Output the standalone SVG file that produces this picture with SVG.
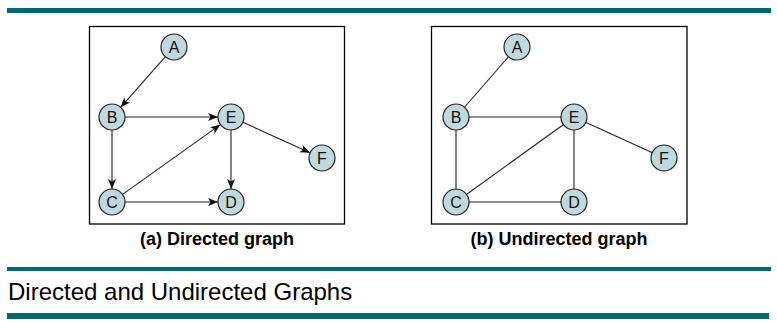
<svg xmlns="http://www.w3.org/2000/svg" width="777" height="323" viewBox="0 0 777 323">
<style>
.bar{fill:#006870}
.frame{fill:none;stroke:#000;stroke-width:1.3}
.node circle{fill:#c1d8dc;stroke:#222;stroke-width:1.2}
.node text{font-family:"Liberation Sans",Arial,sans-serif;font-size:16px;fill:#111;text-anchor:middle}
.edge{stroke:#222;stroke-width:1.1;fill:none}
.cap{font-family:"Liberation Sans",Arial,sans-serif;font-size:18px;font-weight:bold;fill:#000;text-anchor:middle}
.title{font-family:"Liberation Sans",Arial,sans-serif;font-size:24px;fill:#000}
</style>
<defs>
<marker id="arr" markerUnits="userSpaceOnUse" markerWidth="12" markerHeight="10" refX="10" refY="4" orient="auto">
<path d="M0,0 L10,4 L0,8 L2.5,4 z" fill="#111"/>
</marker>
</defs>
<rect class="bar" x="7" y="8" width="764" height="5"/>
<rect class="frame" x="89.5" y="26.5" width="255" height="197.5"/>
<rect class="frame" x="431.5" y="26.5" width="255.5" height="197.5"/>
<g id="connectors">
<line class="edge" x1="165.4" y1="56.7" x2="120.6" y2="107.3" marker-end="url(#arr)"/>
<line class="edge" x1="125" y1="117" x2="218" y2="117" marker-end="url(#arr)"/>
<line class="edge" x1="112" y1="130" x2="112" y2="189" marker-end="url(#arr)"/>
<line class="edge" x1="122.6" y1="194.4" x2="220.4" y2="124.6" marker-end="url(#arr)"/>
<line class="edge" x1="125" y1="202" x2="218" y2="202" marker-end="url(#arr)"/>
<line class="edge" x1="231" y1="130" x2="231" y2="189" stroke-width="1.4" marker-end="url(#arr)"/>
<line class="edge" x1="242.9" y1="122.3" x2="310.1" y2="152.7" marker-end="url(#arr)"/>
<line class="edge" x1="517" y1="47" x2="456" y2="117"/>
<line class="edge" x1="456" y1="117" x2="574" y2="117" stroke="#777"/>
<line class="edge" x1="456" y1="117" x2="456" y2="202"/>
<line class="edge" x1="456" y1="202" x2="574" y2="117"/>
<line class="edge" x1="456" y1="202" x2="574" y2="202" stroke="#777"/>
<line class="edge" x1="574" y1="117" x2="574" y2="202"/>
<line class="edge" x1="574" y1="117" x2="664" y2="158"/>
</g>
<g id="a-A" class="node"><circle cx="174" cy="47" r="13"/><text x="174" y="52.5">A</text></g>
<g id="a-B" class="node"><circle cx="112" cy="117" r="13"/><text x="112" y="122.5">B</text></g>
<g id="a-E" class="node"><circle cx="231" cy="117" r="13"/><text x="231" y="122.5">E</text></g>
<g id="a-F" class="node"><circle cx="322" cy="158" r="13"/><text x="322" y="163.5">F</text></g>
<g id="a-C" class="node"><circle cx="112" cy="202" r="13"/><text x="112" y="207.5">C</text></g>
<g id="a-D" class="node"><circle cx="231" cy="202" r="13"/><text x="231" y="207.5">D</text></g>
<g id="b-A" class="node"><circle cx="517" cy="47" r="13"/><text x="517" y="52.5">A</text></g>
<g id="b-B" class="node"><circle cx="456" cy="117" r="13"/><text x="456" y="122.5">B</text></g>
<g id="b-E" class="node"><circle cx="574" cy="117" r="13"/><text x="574" y="122.5">E</text></g>
<g id="b-F" class="node"><circle cx="664" cy="158" r="13"/><text x="664" y="163.5">F</text></g>
<g id="b-C" class="node"><circle cx="456" cy="202" r="13"/><text x="456" y="207.5">C</text></g>
<g id="b-D" class="node"><circle cx="574" cy="202" r="13"/><text x="574" y="207.5">D</text></g>
<text class="cap" x="217" y="245">(a) Directed graph</text>
<text class="cap" x="559" y="245">(b) Undirected graph</text>
<rect class="bar" x="7" y="267" width="764" height="4"/>
<text class="title" x="8" y="300">Directed and Undirected Graphs</text>
<rect class="bar" x="7" y="313" width="762" height="6"/>
</svg>
